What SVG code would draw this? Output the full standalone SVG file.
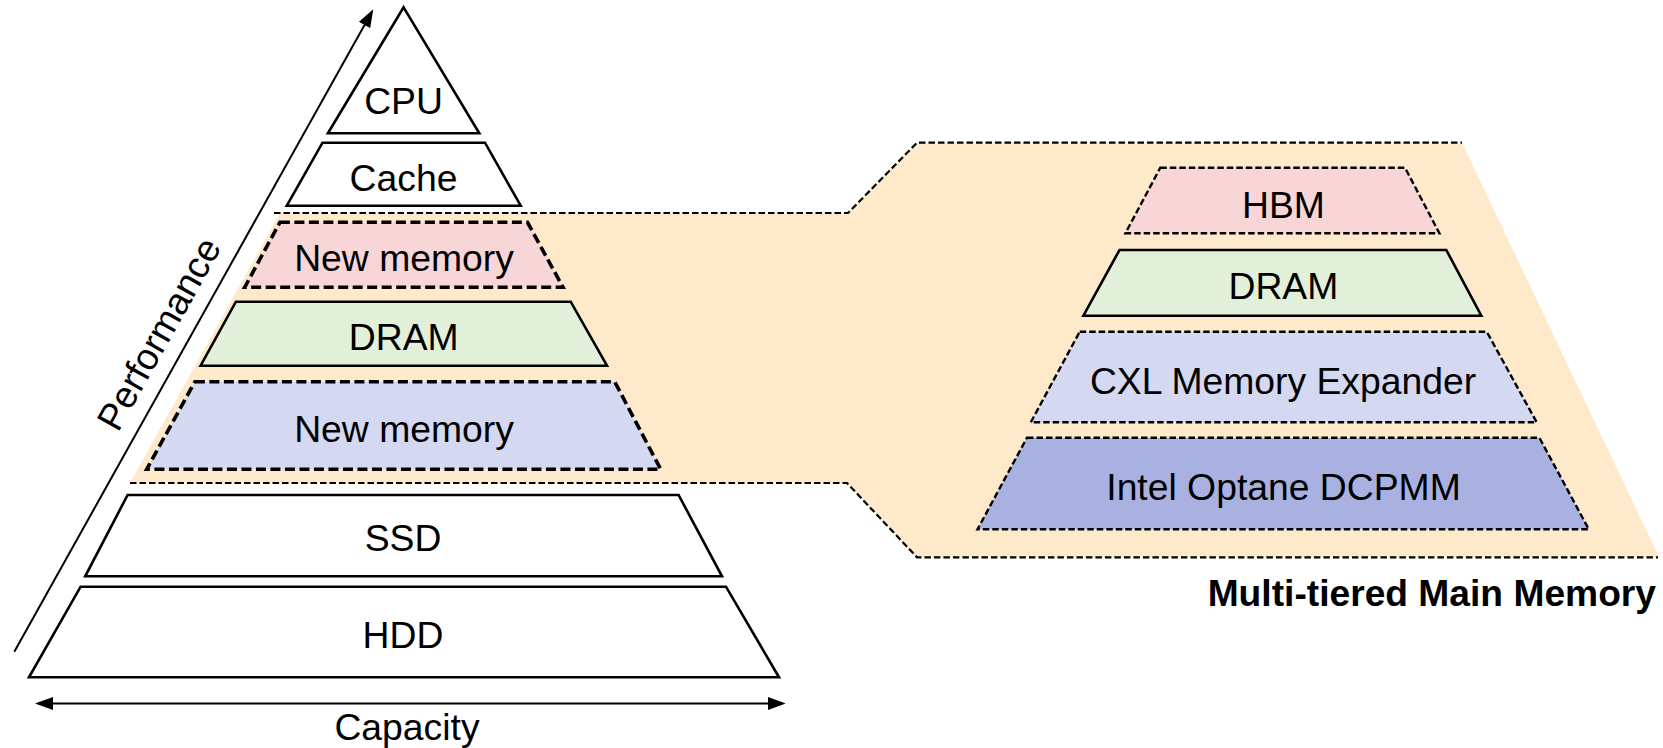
<svg xmlns="http://www.w3.org/2000/svg" width="1663" height="748" viewBox="0 0 1663 748">
  <defs>
    <marker id="arrowHead" viewBox="0 0 18 13" markerWidth="18" markerHeight="13" refX="15" refY="6.5" orient="auto-start-reverse" markerUnits="userSpaceOnUse">
      <path d="M0,0 L18,6.5 L0,13 z" fill="#000"/>
    </marker>
    <style>
      .lbl { font-family: "Liberation Sans", Arial, sans-serif; font-size: 37.3px; fill: #000; text-anchor: middle; }
      .title { font-family: "Liberation Sans", Arial, sans-serif; font-size: 37.2px; font-weight: bold; fill: #000; text-anchor: end; }
      .solid { stroke: #000; stroke-width: 2.6; stroke-linejoin: miter; }
      .dashThick { stroke: #000; stroke-width: 3.6; stroke-dasharray: 10 4.5; }
      .dashThin { stroke: #000; stroke-width: 2.4; stroke-dasharray: 6.5 3; }
      .conn { fill: none; stroke: #000; stroke-width: 2.2; stroke-dasharray: 6.5 3; }
      .white { fill: #fff; }
      .pink { fill: #f8d6d8; }
      .green { fill: #e3f0d9; }
      .lblue { fill: #d4d8f0; }
      .dblue { fill: #a9b1e1; }
      .axis { stroke: #000; stroke-width: 2; fill: none; }
    </style>
  </defs>

  <!-- highlighted main-memory band, extended to the right-hand detail -->
  <polygon id="memoryBand" points="280,213 848,213 917,142.7 1462,142.7 1659,557 917,557 847,483 130,483" fill="#fee9cb"/>

  <!-- dashed outline of the band -->
  <g id="connectors">
    <polyline class="conn" points="274,213 848,213 917,142.7 1462,142.7"/>
    <polyline class="conn" points="130,483 847,483 917,557.3 1658,557.3"/>
  </g>

  <!-- axes -->
  <g id="axisPerformance">
    <line class="axis" x1="14.3" y1="651.7" x2="371.8" y2="11.9" marker-end="url(#arrowHead)"/>
    <text class="lbl" transform="translate(170,340) rotate(-60.8)">Performance</text>
  </g>
  <g id="axisCapacity">
    <line class="axis" x1="38" y1="703.5" x2="782.7" y2="703.5" marker-start="url(#arrowHead)" marker-end="url(#arrowHead)"/>
    <text class="lbl" x="407" y="740">Capacity</text>
  </g>

  <!-- memory hierarchy pyramid -->
  <g id="cpu">
    <polygon class="white solid" points="403.6,7.3 479.3,133.3 327.9,133.3"/>
    <text class="lbl" x="403.5" y="114.3">CPU</text>
  </g>
  <g id="cache">
    <polygon class="white solid" points="322.5,142.7 485,142.7 520.7,205.7 286.8,205.7"/>
    <text class="lbl" x="403.5" y="191">Cache</text>
  </g>
  <g id="newMemoryTop">
    <polygon class="pink dashThick" points="279.9,222.3 527.5,222.3 563,287.3 244.7,287.3"/>
    <text class="lbl" x="404" y="270.7">New memory</text>
  </g>
  <g id="dramLeft">
    <polygon class="green solid" points="235.9,301.7 570.7,301.7 607,365.7 200.6,365.7"/>
    <text class="lbl" x="403.7" y="350">DRAM</text>
  </g>
  <g id="newMemoryBottom">
    <polygon class="lblue dashThick" points="194.9,381.7 614.7,381.7 660.7,469.3 146.7,469.3"/>
    <text class="lbl" x="404" y="442.3">New memory</text>
  </g>
  <g id="ssd">
    <polygon class="white solid" points="127.6,495 678.6,495 722,576.3 85.2,576.3"/>
    <text class="lbl" x="403" y="551">SSD</text>
  </g>
  <g id="hdd">
    <polygon class="white solid" points="80.6,586.7 726,586.7 779,677.3 29,677.3"/>
    <text class="lbl" x="403" y="648.3">HDD</text>
  </g>

  <!-- multi-tiered main memory detail -->
  <g id="hbm">
    <polygon class="pink dashThin" points="1160.3,167.7 1405,167.7 1439.4,233.3 1125.4,233.3"/>
    <text class="lbl" x="1283.5" y="217.7">HBM</text>
  </g>
  <g id="dramRight">
    <polygon class="green solid" points="1119.5,250 1446.3,250 1481.3,315.7 1083.4,315.7"/>
    <text class="lbl" x="1283.4" y="299">DRAM</text>
  </g>
  <g id="cxl">
    <polygon class="lblue dashThin" points="1079.7,331.7 1486.7,331.7 1536.7,422.3 1030.8,422.3"/>
    <text class="lbl" x="1283" y="394">CXL Memory Expander</text>
  </g>
  <g id="optane">
    <polygon class="dblue dashThin" points="1027,437.7 1539.4,437.7 1588.8,529.3 977.5,529.3"/>
    <text class="lbl" x="1283.5" y="500">Intel Optane DCPMM</text>
  </g>
  <g id="mainMemoryTitle">
    <text class="title" x="1656" y="606">Multi-tiered Main Memory</text>
  </g>
</svg>
